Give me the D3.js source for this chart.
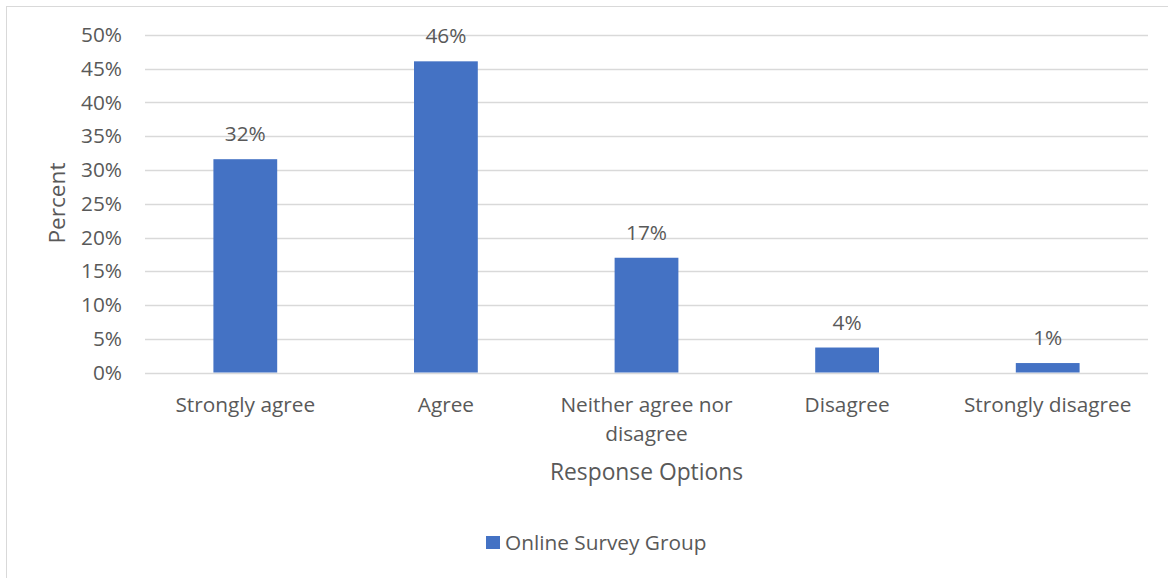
<!DOCTYPE html>
<html>
<head>
<meta charset="utf-8">
<script src="https://cdn.jsdelivr.net/npm/d3@7"></script>
<style>
  body { margin: 0; background: #fff; }
  text { font-family: "Open Sans", "Noto Sans", sans-serif; fill: #595959; }
</style>
</head>
<body>
<div id="chart"></div>
<script>
// response options and the share of answers for each
const categories = ["Strongly agree", "Agree", "Neither agree nor disagree", "Disagree", "Strongly disagree"]
const values = [31.6, 46.1, 17.0, 3.7, 1.4]
const valueLabels = ["32%", "46%", "17%", "4%", "1%"]
const yTicks = [0, 5, 10, 15, 20, 25, 30, 35, 40, 45, 50]
const seriesName = "Online Survey Group"

const W = 1168, H = 578
const margin = { top: 35, right: 20, bottom: 205.5, left: 145 }
const width = 1148 - margin.left
const height = H - margin.top - margin.bottom
const fs = 20.8

const svg = d3.select("#chart").append("svg")
    .attr("width", W)
    .attr("height", H)

// chart frame (only left/top visible in the picture)
svg.append("rect")
    .attr("x", 6.5).attr("y", 6.5)
    .attr("width", W).attr("height", H)
    .attr("fill", "none")
    .attr("stroke", "#d9d9d9")

const g = svg.append("g")
    .attr("transform", "translate(" + margin.left + "," + margin.top + ")")

const x = d3.scaleBand()
    .domain(categories)
    .range([0, width])
    .paddingInner(0.682)
    .paddingOuter(0.341)

const y = d3.scaleLinear()
    .domain([0, 50])
    .range([height, 0])

// gridlines
g.append("g")
    .selectAll("line")
    .data(yTicks)
    .join("line")
    .attr("x1", 0).attr("x2", width)
    .attr("y1", d => Math.round(y(d)) + 0.5)
    .attr("y2", d => Math.round(y(d)) + 0.5)
    .attr("stroke", "#d9d9d9")
    .attr("stroke-width", 1.3)

// y axis labels
const yAxis = g.append("g")
    .call(d3.axisLeft(y).tickValues(yTicks).tickFormat(d => d + "%").tickSize(0).tickPadding(23))
yAxis.select(".domain").remove()
yAxis.selectAll("text")
    .attr("font-size", fs)
    .attr("fill", "#595959")
    .style("font-family", "'Open Sans', 'Noto Sans', sans-serif")

// bars
g.selectAll(".bar")
    .data(values)
    .join("rect")
    .attr("class", "bar")
    .attr("x", (d, i) => x(categories[i]))
    .attr("y", d => y(d))
    .attr("width", x.bandwidth())
    .attr("height", d => height - y(d))
    .attr("fill", "#4472c4")

// value labels
g.selectAll(".vlabel")
    .data(values)
    .join("text")
    .attr("class", "vlabel")
    .attr("x", (d, i) => x(categories[i]) + x.bandwidth() / 2)
    .attr("y", d => y(d) - 18)
    .attr("text-anchor", "middle")
    .attr("font-size", fs)
    .text((d, i) => valueLabels[i])

// category labels (wrapped like the original)
const wrapped = {
    "Neither agree nor disagree": ["Neither agree nor", "disagree"]
}
categories.forEach(c => {
    const lines = wrapped[c] || [c]
    const t = g.append("text")
        .attr("x", x(c) + x.bandwidth() / 2)
        .attr("y", height + 39)
        .attr("text-anchor", "middle")
        .attr("font-size", fs)
    lines.forEach((l, i) => {
        t.append("tspan")
            .attr("x", x(c) + x.bandwidth() / 2)
            .attr("dy", i === 0 ? 0 : 29)
            .text(l)
    })
})

// axis titles
svg.append("text")
    .attr("x", margin.left + width / 2)
    .attr("y", 480)
    .attr("text-anchor", "middle")
    .attr("font-size", 22.8)
    .text("Response Options")

svg.append("text")
    .attr("transform", "translate(65,203) rotate(-90)")
    .attr("text-anchor", "middle")
    .attr("font-size", 22.6)
    .text("Percent")

// legend
const legend = svg.append("g").attr("transform", "translate(486,536)")
legend.append("rect")
    .attr("width", 14).attr("height", 13)
    .attr("fill", "#4472c4")
legend.append("text")
    .attr("x", 19).attr("y", 14)
    .attr("font-size", fs)
    .text(seriesName)
</script>
</body>
</html>
